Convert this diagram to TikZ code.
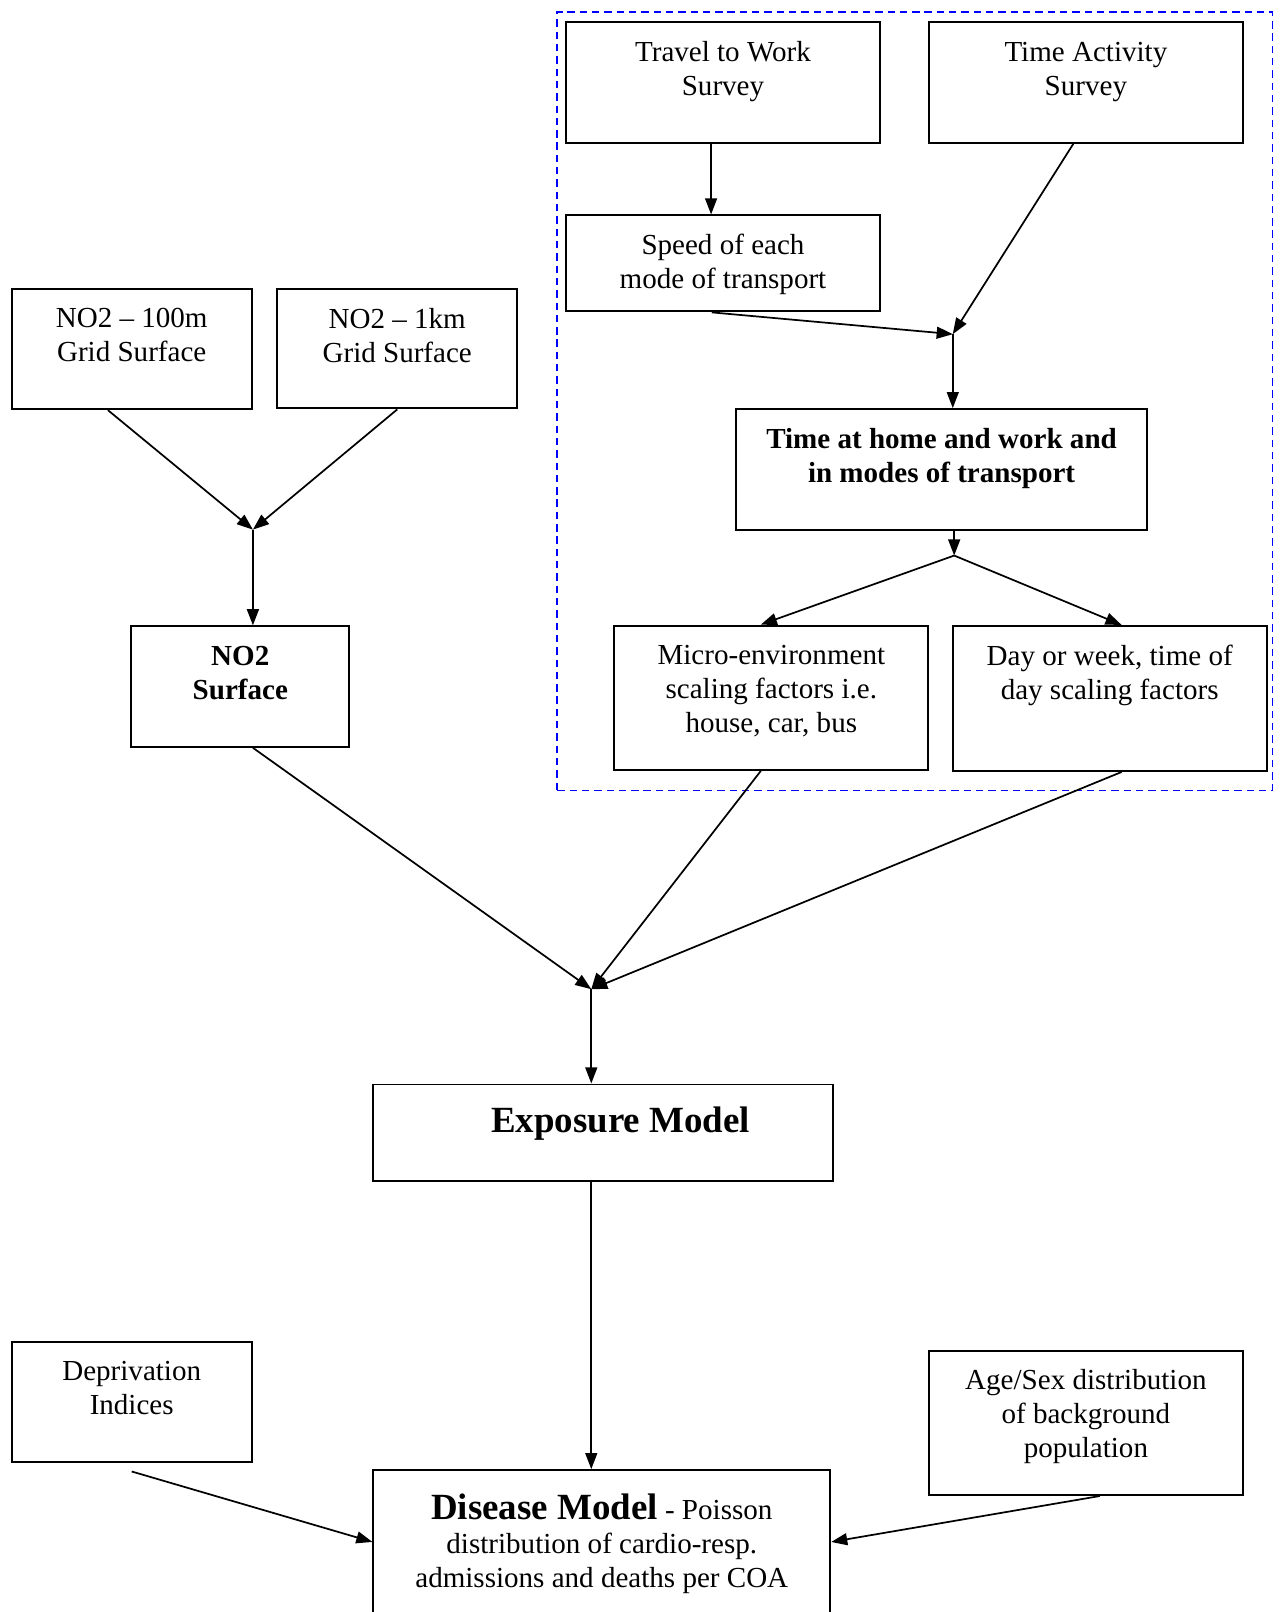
\documentclass[tikz,border=0pt]{standalone}
\usepackage{fontspec}
\setmainfont{Liberation Serif}
\usepackage{xcolor}
\usepackage{tikz}
\usetikzlibrary{arrows.meta}
\definecolor{groupblue}{RGB}{0,0,255}
\tikzstyle{block} = [rectangle, draw=black, line width=0.8pt, inner sep=0pt, font=\fontsize{11.8}{13.8}\selectfont]
\tikzstyle{group} = [rectangle, draw=groupblue, line width=0.7pt, dash pattern=on 3pt off 2pt]
\tikzstyle{arrow} = [line width=0.7pt, -{Triangle[length=0.23cm, width=0.17cm]}]
\newcommand{\blocktext}[4][0.56cm]{\parbox[c][#3][t]{#2}{\centering\rule{0pt}{#1}#4\par}}

\begin{document}
\begin{tikzpicture}
\useasboundingbox (0,0) rectangle (18.30,-23.01);
\clip (0,0) rectangle (18.30,-23.01);

% ===== TIME ACTIVITY GROUP =====
\node (activity_box) [group, minimum width=10.21cm, minimum height=11.11cm] at (13.06,-5.73) {};

\node (travel) [block] at (10.32,-1.18) {\blocktext{4.48cm}{1.72cm}{Travel to Work\\Survey}};
\node (timeact) [block] at (15.50,-1.18) {\blocktext{4.49cm}{1.72cm}{Time Activity\\Survey}};
\node (speed) [block] at (10.32,-3.76) {\blocktext{4.48cm}{1.37cm}{Speed of each\\mode of transport}};
\node (timehome) [block] at (13.44,-6.70) {\blocktext{5.86cm}{1.72cm}{\bfseries Time at home and work and\\in modes of transport}};
\node (micro) [block] at (11.01,-9.96) {\blocktext{4.48cm}{2.06cm}{Micro-environment\\scaling factors i.e.\\house, car, bus}};
\node (dayweek) [block] at (15.84,-9.97) {\blocktext{4.48cm}{2.07cm}{Day or week, time of\\day scaling factors}};

% ===== NO2 SURFACES =====
\node (no2_100m) [block] at (1.88,-4.98) {\blocktext{3.43cm}{1.72cm}{NO2 – 100m\\Grid Surface}};
\node (no2_1km) [block] at (5.67,-4.98) {\blocktext{3.42cm}{1.70cm}{NO2 – 1km\\Grid Surface}};
\node (no2_surface) [block] at (3.43,-9.80) {\blocktext{3.11cm}{1.72cm}{\bfseries NO2\\Surface}};

% ===== MODELS =====
\node (exposure) [block] at (8.61,-16.17) {\blocktext[0.68cm]{6.56cm}{1.38cm}{\hspace*{0.5cm}{\fontsize{15}{18}\selectfont\bfseries Exposure Model}}};
\node (disease) [block] at (8.59,-22.27) {\blocktext[0.70cm]{6.52cm}{2.57cm}{{\fontsize{15}{18}\selectfont\bfseries Disease Model} - Poisson\\distribution of cardio-resp.\\admissions and deaths per COA}};
\node (deprivation) [block] at (1.88,-20.01) {\blocktext{3.43cm}{1.72cm}{Deprivation\\Indices}};
\node (agesex) [block] at (15.50,-20.31) {\blocktext{4.49cm}{2.06cm}{Age/Sex distribution\\of background\\population}};

% join points
\coordinate (no2_join) at (3.61,-7.56);
\coordinate (survey_join) at (13.60,-4.77);
\coordinate (split) at (13.62,-7.93);
\coordinate (exposure_join) at (8.44,-14.12);

% ===== ARROWS =====
% NO2 grids to NO2 surface
\draw [arrow] ([xshift=-0.34cm]no2_100m.south) -- (no2_join);
\draw [arrow] (no2_1km.south) -- (no2_join);
\draw [arrow] (no2_join) -- (no2_join |- no2_surface.north);

% Surveys to time at home
\draw [arrow] ([xshift=-0.17cm]travel.south) -- ([xshift=-0.17cm]speed.north);
\draw [arrow] ([xshift=-0.16cm]speed.south) -- (survey_join);
\draw [arrow] ([xshift=-0.18cm]timeact.south) -- (survey_join);
\draw [arrow] (survey_join) -- (survey_join |- timehome.north);

% Time at home to scaling factors
\draw [arrow] (split |- timehome.south) -- (split);
\draw [arrow] (split) -- ([xshift=-0.15cm]micro.north);
\draw [arrow] (split) -- ([xshift=0.17cm]dayweek.north);

% Everything into the exposure model
\draw [arrow] (no2_join |- no2_surface.south) -- (exposure_join);
\draw [arrow] ([xshift=-0.15cm]micro.south) -- (exposure_join);
\draw [arrow] ([xshift=0.17cm]dayweek.south) -- (exposure_join);
\draw [arrow] (exposure_join) -- (exposure_join |- exposure.north);

% Exposure and covariates to disease model
\draw [arrow] (exposure_join |- exposure.south) -- (exposure_join |- disease.north);
\draw [arrow] ([yshift=-0.12cm]deprivation.south) -- ([yshift=0.26cm]disease.west);
\draw [arrow] ([xshift=0.2cm]agesex.south) -- ([yshift=0.26cm]disease.east);

\end{tikzpicture}
\end{document}
